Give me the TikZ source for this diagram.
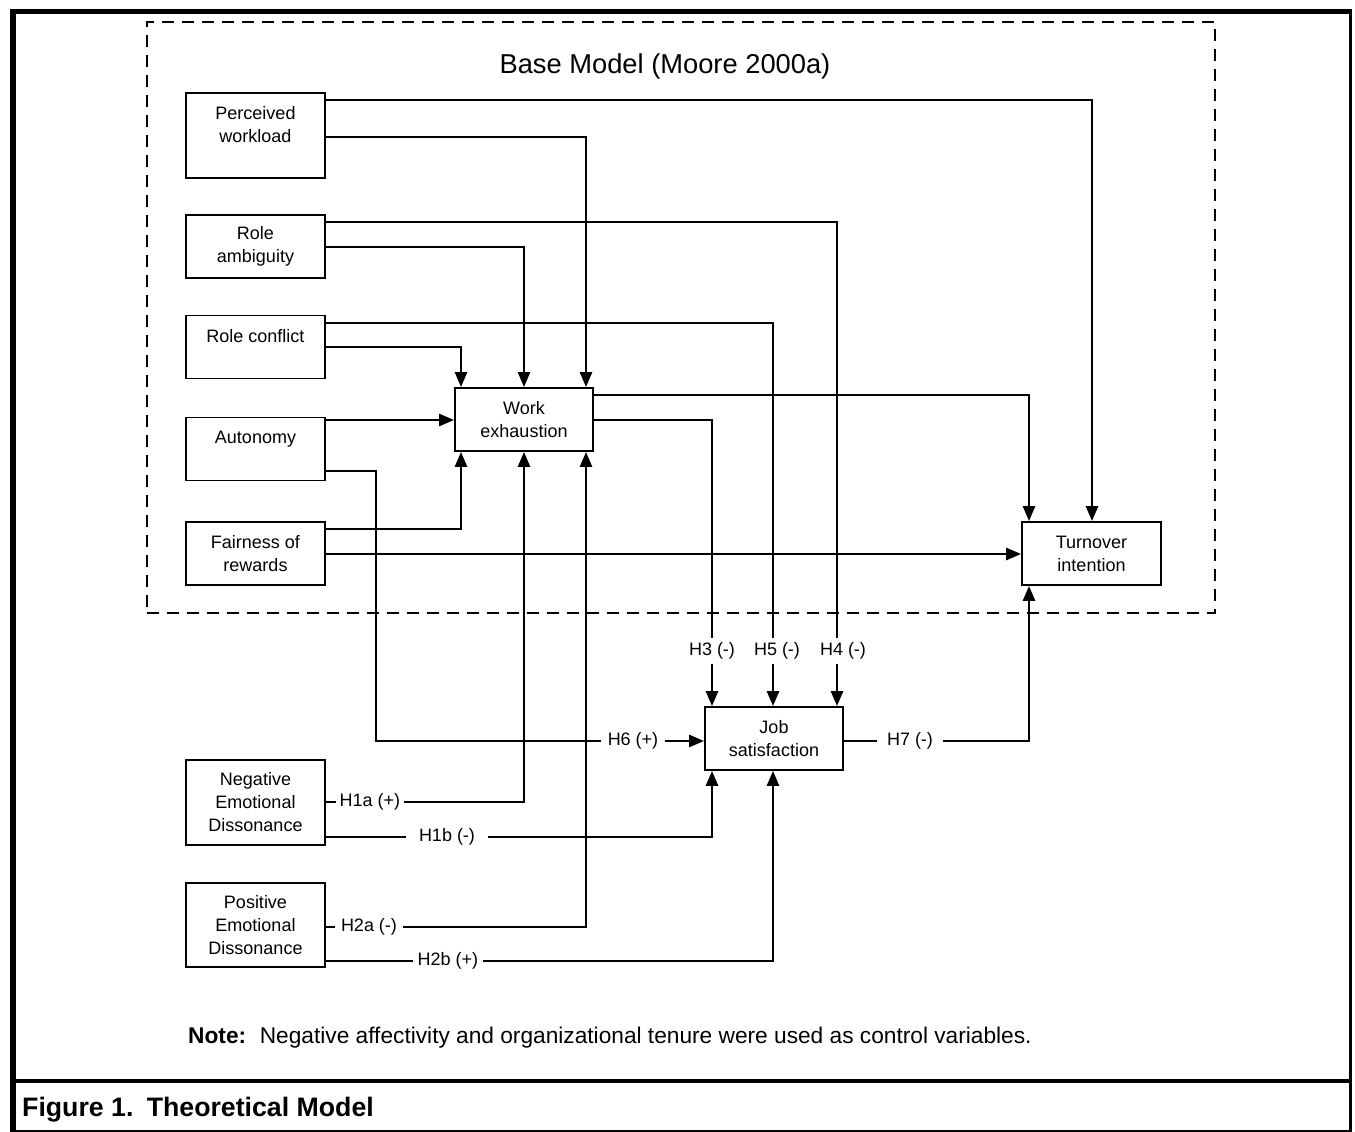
\documentclass[tikz,border=0pt]{standalone}
\usepackage{fontspec}
\setmainfont{Liberation Sans}
\usetikzlibrary{arrows.meta}
\begin{document}
\begin{tikzpicture}[x=1pt,y=-1pt,
  box/.style={draw,line width=1.8pt,minimum width=139pt,minimum height=63pt,inner sep=0pt,align=center,font=\fontsize{18}{23}\selectfont},
  con/.style={line width=2.6pt},
  arr/.style={con,-{Triangle[length=15pt,width=12pt]}},
  lbl/.style={inner xsep=4pt,inner ysep=4pt,font=\fontsize{18}{22}\selectfont}]
\useasboundingbox (0,0) rectangle (1355,1132);
% frame
\draw[line width=6pt] (13,9) -- (13,1132);
\draw[line width=5pt] (10,12) -- (1352,12);
\draw[line width=3pt] (1350,10) -- (1350,1132);
\draw[line width=2pt] (10,1131) -- (1352,1131);
\draw[line width=4pt] (13,1081) -- (1350,1081);
% base model
\node[draw,dash pattern=on 12pt off 8pt,line width=1.8pt,minimum width=1068pt,minimum height=591pt,inner sep=0pt] (base) at (681,317.5) {};
\node[font=\fontsize{27.3}{31}\selectfont] (title) at (665,66) {Base Model (Moore 2000a)};
% boxes
\node[box,minimum height=85pt] (pw) at (255.5,135.5) {Perceived\\workload\\\mbox{}};
\node[box] (ra) at (255.5,246.5) {Role\\ambiguity};
\node[box] (rc) at (255.5,347) {Role conflict\\\mbox{}};
\node[box] (au) at (255.5,449) {Autonomy\\\mbox{}};
\node[box] (fr) at (255.5,553.5) {Fairness of\\rewards};
\node[box,minimum width=138pt] (we) at (524,419.5) {Work\\exhaustion};
\node[box] (to) at (1091.5,553.5) {Turnover\\intention};
\node[box,minimum width=138pt] (js) at (774,738.5) {Job\\satisfaction};
\node[box,minimum height=85pt] (ned) at (255.5,802.5) {Negative\\Emotional\\Dissonance};
\node[box,minimum height=84pt] (ped) at (255.5,925) {Positive\\Emotional\\Dissonance};
% labels
\node[lbl] (h3) at (712,651) {H3 (-)};
\node[lbl] (h5) at (777,651) {H5 (-)};
\node[lbl] (h4) at (843,651) {H4 (-)};
\node[lbl,inner xsep=7pt] (h6) at (633,741) {H6 (+)};
\node[lbl,inner xsep=10pt] (h7) at (910,741) {H7 (-)};
\node[lbl,inner xsep=4pt] (h1a) at (370,802) {H1a (+)};
\node[lbl,inner xsep=13pt] (h1b) at (447,837) {H1b (-)};
\node[lbl,inner xsep=6pt] (h2a) at (369,927) {H2a (-)};
\node[lbl,inner xsep=5pt] (h2b) at (448,961) {H2b (+)};
% connectors
\draw[arr] (pw.east |- 0,100) -| (to.north -| 1092,0);
\draw[arr] (pw.east |- 0,137) -| (we.north -| 586,0);
\draw[con] (ra.east |- 0,222) -| (h4.north -| 837,0);
\draw[arr] (h4.south -| 837,0) -- (js.north -| 837,0);
\draw[arr] (ra.east |- 0,247) -| (we.north -| 524,0);
\draw[con] (rc.east |- 0,323) -| (h5.north -| 773,0);
\draw[arr] (h5.south -| 773,0) -- (js.north -| 773,0);
\draw[arr] (rc.east |- 0,347) -| (we.north -| 461,0);
\draw[arr] (au.east |- 0,420) -- (we.west |- 0,420);
\draw[con] (au.east |- 0,471) -| (h6.west -| 376,0) -- (h6.west);
\draw[arr] (h6.east) -- (js.west |- h6);
\draw[arr] (fr.east |- 0,529) -| (we.south -| 461,0);
\draw[arr] (fr.east |- 0,554) -- (to.west |- 0,554);
\draw[arr] (we.east |- 0,395) -| (to.north -| 1029,0);
\draw[con] (we.east |- 0,420) -| (h3.north);
\draw[arr] (h3.south) -- (js.north -| h3);
\draw[con] (js.east |- h7) -- (h7.west);
\draw[arr] (h7.east) -| (to.south -| 1029,0);
\draw[con] (ned.east |- h1a) -- (h1a.west);
\draw[arr] (h1a.east) -| (we.south -| 524,0);
\draw[con] (ned.east |- h1b) -- (h1b.west);
\draw[arr] (h1b.east) -| (js.south -| 712,0);
\draw[con] (ped.east |- h2a) -- (h2a.west);
\draw[arr] (h2a.east) -| (we.south -| 586,0);
\draw[con] (ped.east |- h2b) -- (h2b.west);
\draw[arr] (h2b.east) -| (js.south -| 773,0);
% note and caption
\node[anchor=west,font=\fontsize{22.7}{27}\selectfont,inner sep=0pt] (note) at (188,1038) {\textbf{Note:}\hspace{0.6em}Negative affectivity and organizational tenure were used as control variables.};
\node[anchor=west,font=\bfseries\fontsize{26.7}{31}\selectfont,inner sep=0pt] (cap) at (22,1110) {Figure 1.\hspace{0.5em}Theoretical Model};
\end{tikzpicture}
\end{document}
